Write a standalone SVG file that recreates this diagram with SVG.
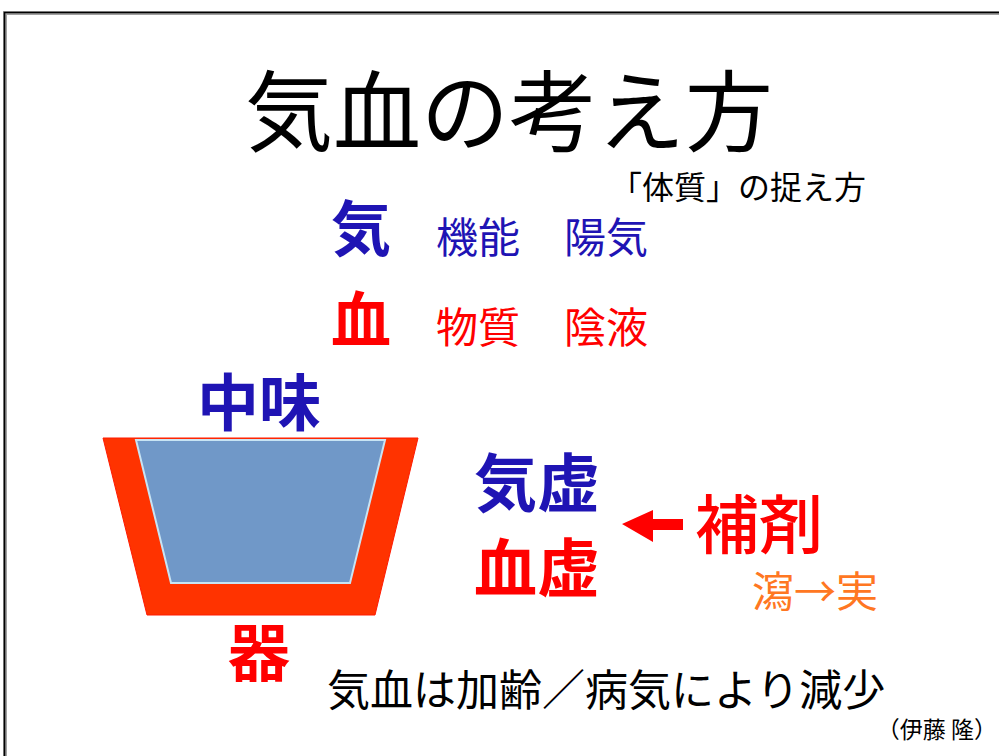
<svg xmlns="http://www.w3.org/2000/svg" width="999" height="756" viewBox="0 0 999 756">
<style>
text{font-family:"Noto Sans CJK JP","Noto Sans CJK SC",sans-serif;}
.blue{fill:#1f14b4;}
.red{fill:#ff0000;}
.b{font-weight:700;}
</style>
<rect x="0" y="0" width="999" height="756" fill="#ffffff"/>
<g id="frame">
<path d="M5,760 V13 H1005" fill="none" stroke="#a0a0a0" stroke-width="4"/>
<path d="M4.5,760 V12.5 H1005" fill="none" stroke="#000" stroke-width="1.6"/>
</g>
<g id="title"><text x="245" y="144" font-size="88" fill="#000">気血の考え方</text></g>
<g id="subtitle"><text x="610" y="199" font-size="32" fill="#000">「体質」の捉え方</text></g>
<g id="ki">
<text class="blue b" x="331" y="251" font-size="60">気</text>
<text class="blue" x="436" y="253" font-size="42">機能</text>
<text class="blue" x="564" y="253" font-size="42">陽気</text>
</g>
<g id="ketsu">
<text class="red b" x="331" y="342" font-size="60">血</text>
<text class="red" x="436" y="343" font-size="42">物質</text>
<text class="red" x="564" y="343" font-size="42">陰液</text>
</g>
<g id="vessel">
<polygon points="103,438 418,438 375,615 147,615" fill="#ff3300" stroke="#ff1a00" stroke-width="1"/>
<polygon points="136,440 385,440 350,583 171,583" fill="#7098c8" stroke="#c8e4f4" stroke-width="2"/>
</g>
<g id="nakami"><text class="blue b" x="197" y="426" font-size="62">中味</text></g>
<g id="utsuwa"><text class="red b" x="228" y="676" font-size="62">器</text></g>
<g id="kikyo"><text class="blue b" x="474" y="506" font-size="63">気虚</text></g>
<g id="kekkyo"><text class="red b" x="474" y="591" font-size="63">血虚</text></g>
<g id="hozai"><text class="red" x="695" y="548" font-size="64" font-weight="500">補剤</text></g>
<g id="connectors">
<polygon points="622,524 653,510 653,519 683,519 683,530 653,530 653,542" fill="#ff0000"/>
</g>
<g id="sha"><text x="752" y="607" font-size="42" fill="#ff7722">瀉→実</text></g>
<g id="note"><text x="327" y="706" font-size="43" fill="#000">気血は加齢／病気により減少</text></g>
<g id="author"><text x="997" y="738" font-size="23" fill="#000" text-anchor="end">（伊藤 隆）</text></g>
</svg>
